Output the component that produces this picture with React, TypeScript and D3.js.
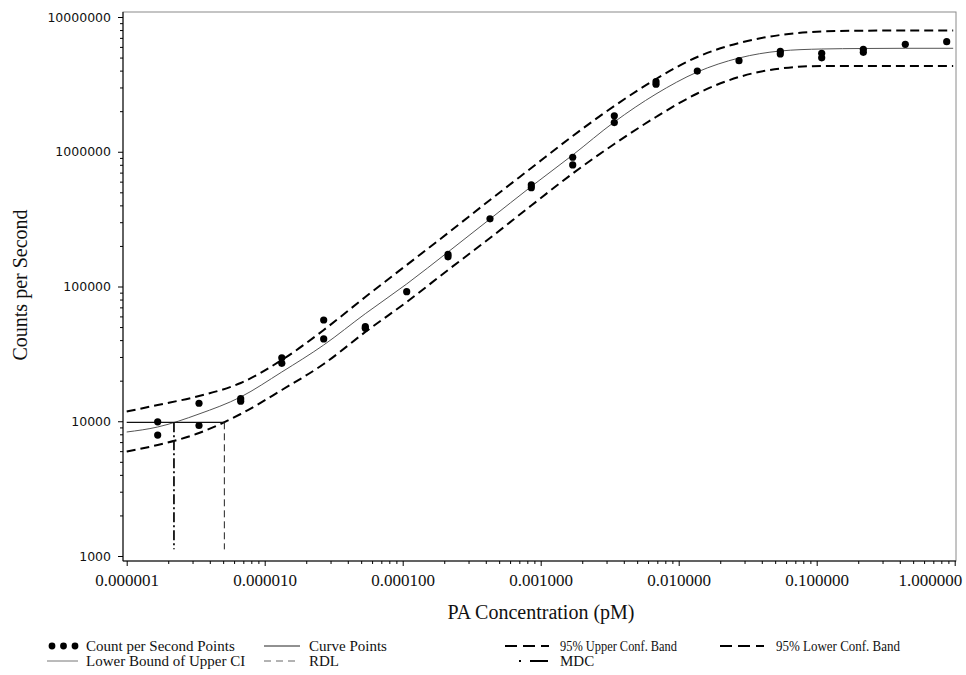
import React, { useEffect, useRef } from "react";
import * as d3 from "d3";

// concentration of each dilution (pM) and the two replicate readings (cps)
const doseConc = [
  1.677e-6, 3.342e-6, 6.7e-6, 1.33e-5, 2.676e-5, 5.358e-5, 1.069e-4, 2.13e-4, 4.291e-4, 8.55e-4,
  1.706e-3, 3.415e-3, 6.846e-3, 1.364e-2, 2.735e-2, 5.448e-2, 0.1087, 0.2177, 0.4385, 0.875,
];
const rep1 = [
  9900, 13600, 14700, 29600, 56400, 50300, 91600, 173000, 318000, 567000,
  910000, 1850000, 3310000, 3970000, 4740000, 5570000, 5380000, 5760000, 6270000, 6560000,
];
const rep2 = [
  7900, 9300, 14100, 26900, 40800, 48900, null, 166000, null, 541000,
  798000, 1645000, 3170000, null, null, 5320000, 4980000, 5470000, null, null,
];

// fitted curve and 95% confidence bands
const curveConc = [
  1e-6, 1.677e-6, 3.342e-6, 6.7e-6, 1.33e-5, 2.676e-5, 5.358e-5, 1.069e-4, 2.13e-4, 4.291e-4, 8.55e-4,
  1.706e-3, 3.415e-3, 6.846e-3, 1.364e-2, 2.735e-2, 5.448e-2, 0.1087, 0.2177, 0.4385, 0.975,
];
const curveCps = [
  8320, 9065, 11320, 15140, 23200, 36800, 62840, 104400, 180300, 316800, 552300,
  946000, 1663000, 2683000, 3906000, 4962000, 5594000, 5788000, 5838000, 5858000, 5858000,
];
const upperBand = [
  11810, 13200, 15390, 19230, 28490, 47560, 83600, 144400, 249500, 438500, 757500,
  1309000, 2185000, 3467000, 5050000, 6414000, 7353000, 7805000, 7912000, 7940000, 7940000,
];
const lowerBand = [
  5964, 6665, 8180, 11320, 17060, 26600, 45950, 76740, 132600, 229000, 399200,
  689700, 1141500, 1811000, 2706000, 3586000, 4148000, 4329000, 4329000, 4329000, 4329000,
];

const lowerBoundUpperCI = 9820;
const mdcConc = 2.2e-6;
const rdlConc = 5.1e-6;
const refLineBottom = 1120;

const xTicks = [1e-6, 1e-5, 1e-4, 1e-3, 1e-2, 1e-1, 1];
const yTicks = [1e3, 1e4, 1e5, 1e6, 1e7];

const serif = "'Liberation Serif', 'Times New Roman', serif";
const sans = "'DejaVu Sans', sans-serif";

const App = () => {
  const ref = useRef<SVGSVGElement>(null);

  useEffect(() => {
    const svg = d3.select(ref.current);
    svg.selectAll("*").remove();

    const frame = { left: 123, right: 956, top: 12, bottom: 561 };
    const x = d3.scaleLog().domain([1e-6, 1]).range([126.7, 954.7]);
    const y = d3.scaleLog().domain([1e3, 1e7]).range([556, 17]);

    const minor = (lo: number, hi: number) => {
      const out: number[] = [];
      for (let p = lo; p < hi; p++) for (let k = 2; k <= 9; k++) out.push(k * Math.pow(10, p));
      return out;
    };

    svg.append("rect")
      .attr("x", frame.left).attr("y", frame.top)
      .attr("width", frame.right - frame.left).attr("height", frame.bottom - frame.top)
      .attr("fill", "none").attr("stroke", "#8a8a8a");

    // x axis
    const gx = svg.append("g").attr("transform", `translate(0, ${frame.bottom})`);
    gx.call(d3.axisBottom(x).tickValues(xTicks).tickSize(5).tickFormat(d3.format(".6f") as any));
    gx.append("g").call(d3.axisBottom(x).tickValues(minor(-6, 0)).tickSize(3).tickFormat(() => ""));
    gx.selectAll(".domain").remove();
    gx.selectAll("line").attr("stroke", "#000");
    gx.selectAll("text")
      .attr("y", 25).attr("dy", null)
      .attr("font-family", serif).attr("font-size", 17).attr("fill", "#111");
    // last label is pulled inside the page like the original
    gx.selectAll("text").filter((d: any) => d === 1)
      .attr("text-anchor", "end").attr("x", 7);
    svg.append("line")
      .attr("x1", frame.left).attr("x2", frame.right)
      .attr("y1", frame.bottom).attr("y2", frame.bottom).attr("stroke", "#000");

    // y axis
    const gy = svg.append("g").attr("transform", `translate(${frame.left}, 0)`);
    gy.call(d3.axisLeft(y).tickValues(yTicks).tickSize(5).tickFormat(d3.format("d") as any));
    gy.append("g").call(d3.axisLeft(y).tickValues(minor(3, 7)).tickSize(3).tickFormat(() => ""));
    gy.selectAll(".domain").remove();
    gy.selectAll("line").attr("stroke", "#000");
    gy.selectAll("text")
      .attr("x", -12)
      .attr("font-family", sans).attr("font-size", 12.5).attr("fill", "#111");
    svg.append("line")
      .attr("x1", frame.left).attr("x2", frame.left)
      .attr("y1", frame.top).attr("y2", frame.bottom).attr("stroke", "#000");

    // axis titles
    svg.append("text")
      .attr("x", 541).attr("y", 619).attr("text-anchor", "middle")
      .attr("font-family", serif).attr("font-size", 20).attr("fill", "#111")
      .text("PA Concentration (pM)");
    svg.append("text")
      .attr("transform", "translate(27, 285) rotate(-90)").attr("text-anchor", "middle")
      .attr("font-family", serif).attr("font-size", 20).attr("fill", "#111")
      .text("Counts per Second");

    const idx = d3.range(curveConc.length);
    const line = (vals: number[]) =>
      d3.line<number>().x(i => x(curveConc[i])).y(i => y(vals[i])).curve(d3.curveMonotoneX)(idx);

    svg.append("path").attr("d", line(upperBand)).attr("fill", "none")
      .attr("stroke", "#000").attr("stroke-width", 2).attr("stroke-dasharray", "9,5");
    svg.append("path").attr("d", line(lowerBand)).attr("fill", "none")
      .attr("stroke", "#000").attr("stroke-width", 2).attr("stroke-dasharray", "9,5");
    svg.append("path").attr("d", line(curveCps)).attr("fill", "none")
      .attr("stroke", "#555").attr("stroke-width", 1);

    // lower bound of upper CI, MDC and RDL
    svg.append("line")
      .attr("x1", x(1e-6)).attr("x2", x(rdlConc))
      .attr("y1", y(lowerBoundUpperCI)).attr("y2", y(lowerBoundUpperCI))
      .attr("stroke", "#111").attr("stroke-width", 1.3);
    svg.append("line")
      .attr("x1", x(mdcConc)).attr("x2", x(mdcConc))
      .attr("y1", y(lowerBoundUpperCI)).attr("y2", y(refLineBottom))
      .attr("stroke", "#111").attr("stroke-width", 1.8).attr("stroke-dasharray", "10,3,2,3");
    svg.append("line")
      .attr("x1", x(rdlConc)).attr("x2", x(rdlConc))
      .attr("y1", y(lowerBoundUpperCI)).attr("y2", y(refLineBottom))
      .attr("stroke", "#222").attr("stroke-width", 1).attr("stroke-dasharray", "7,4");

    // points
    const pts: [number, number][] = [];
    doseConc.forEach((c, i) => {
      pts.push([c, rep1[i]]);
      if (rep2[i] != null) pts.push([c, rep2[i] as number]);
    });
    svg.append("g").selectAll("circle").data(pts).join("circle")
      .attr("cx", d => x(d[0])).attr("cy", d => y(d[1])).attr("r", 3.6).attr("fill", "#000");

    // legend
    const lg = svg.append("g").attr("font-family", serif).attr("font-size", 15).attr("fill", "#111");
    const row1 = 646, row2 = 661;
    [52, 63.5, 75].forEach(cx => lg.append("circle").attr("cx", cx).attr("cy", row1).attr("r", 3.4).attr("fill", "#000"));
    const label = (tx: number, ty: number, s: string, len?: number) => {
      const t = lg.append("text").attr("x", tx).attr("y", ty).attr("dy", "0.33em").text(s);
      if (len) t.attr("textLength", len).attr("lengthAdjust", "spacingAndGlyphs");
    };
    const seg = (x1: number, x2: number, ty: number, stroke: string, w: number, dash?: string) => {
      const l = lg.append("line").attr("x1", x1).attr("x2", x2).attr("y1", ty).attr("y2", ty)
        .attr("stroke", stroke).attr("stroke-width", w);
      if (dash) l.attr("stroke-dasharray", dash);
    };
    label(86, row1, "Count per Second Points");
    seg(264, 300, row1, "#222", 1);
    label(309, row1, "Curve Points");
    seg(505, 549, row1, "#000", 2, "12,6");
    label(560, row1, "95% Upper Conf. Band", 117);
    seg(720, 764, row1, "#000", 2, "12,6");
    label(776, row1, "95% Lower Conf. Band", 124);
    seg(47, 78, row2, "#777", 1);
    label(86, row2, "Lower Bound of Upper CI");
    seg(264, 300, row2, "#666", 1, "7,5");
    label(309, row2, "RDL");
    seg(530, 548, row2, "#000", 2);
    seg(519, 521, row2, "#000", 2);
    label(560, row2, "MDC");
  }, []);

  return (
    <svg
      ref={ref}
      width={966}
      height={675}
      style={{ position: "absolute", left: 0, top: 0, background: "#fff" }}
    />
  );
};

export default App;
